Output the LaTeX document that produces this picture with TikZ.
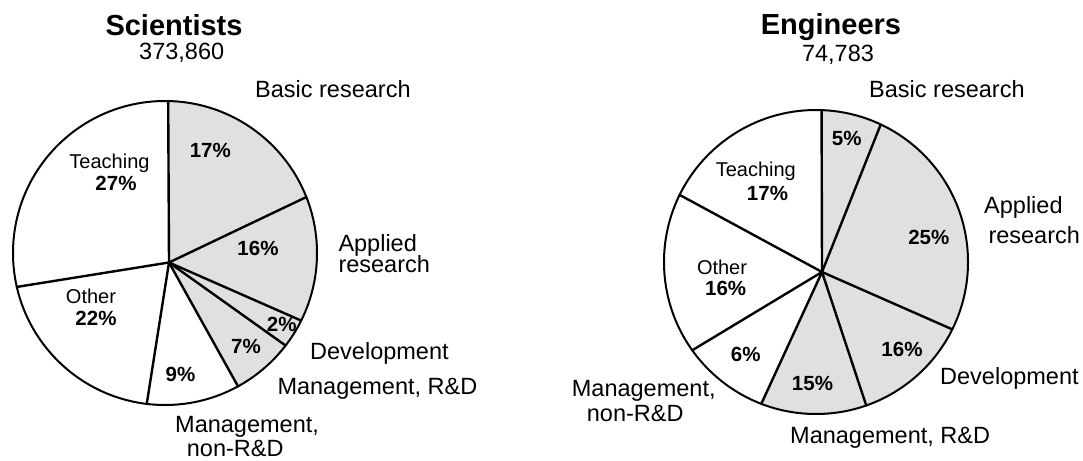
\documentclass[tikz,border=0pt]{standalone}
\usepackage{fontspec}
\setmainfont{Liberation Sans}
\usetikzlibrary{calc}

\begin{document}
\begin{tikzpicture}[x=1pt,y=1pt]
\tikzset{SliceStyle/.style={fill=black!12}}
\tikzset{RimStyle/.style={draw, line width=2pt}}
\tikzset{SpokeStyle/.style={line width=2.4pt, line cap=round}}
\tikzset{TitleStyle/.style={anchor=base, inner sep=0pt, font=\fontsize{29}{32}\selectfont\bfseries}}
\tikzset{CountStyle/.style={anchor=base, inner sep=0pt, font=\fontsize{23.5}{26}\selectfont}}
\tikzset{OutStyle/.style={anchor=base west, inner sep=0pt, font=\fontsize{23.5}{26}\selectfont}}
\tikzset{InStyle/.style={anchor=base, inner sep=0pt, font=\fontsize{20}{22}\selectfont}}
\tikzset{PctStyle/.style={anchor=base, inner sep=0pt, font=\fontsize{20.5}{22}\selectfont\bfseries}}
\useasboundingbox (0,0) rectangle (1083,-460);

% Scientists
\coordinate (cS) at (165,-253);
\coordinate (hS) at (169,-262.5);
\fill[SliceStyle] (hS) -- ($(cS)+(88.8:152)$) arc[start angle=88.8, end angle=-61.3, radius=152] -- cycle;
\foreach \a [count=\i] in {88.8,21.6,-26.4,-37.5,-61.3,-96.9,-167.1}
  \draw[SpokeStyle] (hS) -- ($(cS)+(\a:152)$) coordinate (sS\i);
\draw[RimStyle] (cS) circle[radius=152];
\node[TitleStyle] (sciTitle) at (174,-36) {Scientists};
\node[CountStyle] (sciCount) at (181.7,-59.3) {373,860};
\node[OutStyle] (sciBasic) at (255,-97.3) {Basic research};
\node[OutStyle] (sciApp) at (338.3,-251) {Applied};
\node[OutStyle] (sciApp2) at (338.3,-272.7) {research};
\node[OutStyle] (sciDev) at (310,-359.3) {Development};
\node[OutStyle] (sciMan) at (277.3,-394) {Management, R\&D};
\node[OutStyle] (sciNon) at (175,-432.5) {Management,};
\node[OutStyle] (sciNon2) at (186.7,-456) {non-R\&D};
\node[InStyle] (sciTeach) at (109.5,-168.3) {Teaching};
\node[PctStyle] (sciTeachP) at (116,-190) {27\%};
\node[InStyle] (sciOther) at (91,-303.3) {Other};
\node[PctStyle] (sciOtherP) at (96,-325) {22\%};
\node[PctStyle] (sciBasicP) at (210.3,-157.7) {17\%};
\node[PctStyle] (sciAppP) at (258,-255) {16\%};
\node[PctStyle] (sciDevP) at (281.7,-331.7) {2\%};
\node[PctStyle] (sciManP) at (246,-353.3) {7\%};
\node[PctStyle] (sciNonP) at (180.5,-381.7) {9\%};

% Engineers
\coordinate (cE) at (816,-262);
\coordinate (hE) at (822,-272);
\fill[SliceStyle] (hE) -- ($(cE)+(87.9:152)$) arc[start angle=87.9, end angle=-111.1, radius=152] -- cycle;
\foreach \a [count=\i] in {87.9,64.8,-26.3,-70.7,-111.1,-144.5,153.8}
  \draw[SpokeStyle] (hE) -- ($(cE)+(\a:152)$) coordinate (sE\i);
\draw[RimStyle] (cE) circle[radius=152];
\node[TitleStyle] (engTitle) at (831,-35) {Engineers};
\node[CountStyle] (engCount) at (838,-62) {74,783};
\node[OutStyle] (engBasic) at (869,-97.3) {Basic research};
\node[OutStyle] (engApp) at (984,-213) {Applied};
\node[OutStyle] (engApp2) at (988.3,-243.3) {research};
\node[OutStyle] (engDev) at (940,-384) {Development};
\node[OutStyle] (engMan) at (790,-443.3) {Management, R\&D};
\node[OutStyle] (engNon) at (571.7,-396.7) {Management,};
\node[OutStyle] (engNon2) at (586.7,-421.7) {non-R\&D};
\node[InStyle] (engTeach) at (755.8,-176) {Teaching};
\node[PctStyle] (engTeachP) at (767.5,-200.7) {17\%};
\node[InStyle] (engOther) at (722,-274) {Other};
\node[PctStyle] (engOtherP) at (725.7,-295) {16\%};
\node[PctStyle] (engBasicP) at (846.7,-145) {5\%};
\node[PctStyle] (engAppP) at (928.8,-244.3) {25\%};
\node[PctStyle] (engDevP) at (902,-356) {16\%};
\node[PctStyle] (engManP) at (812.5,-390) {15\%};
\node[PctStyle] (engNonP) at (745.7,-361.7) {6\%};
\end{tikzpicture}
\end{document}
